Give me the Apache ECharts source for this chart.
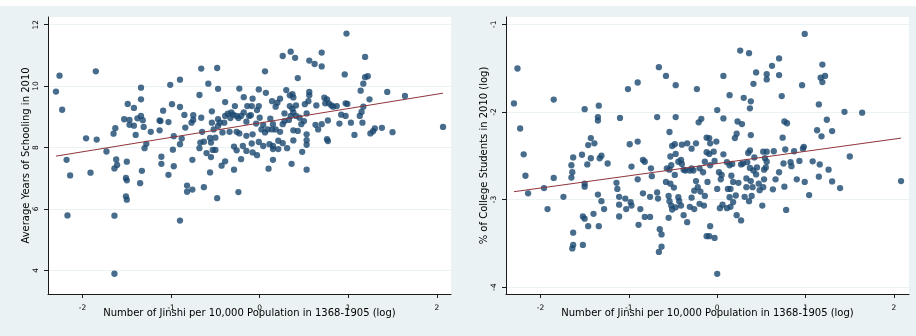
<!DOCTYPE html>
<html>
<head>
<meta charset="utf-8">
<script src="https://cdn.jsdelivr.net/npm/echarts@6/dist/echarts.min.js"></script>
<style>
html,body{margin:0;padding:0;background:#EAF2F3;}
#chart{width:916px;height:336px;}
</style>
</head>
<body>
<div id="chart"></div>
<script>
// X-axis ticks shared by both panels
var xTicks = [-2, -1, 0, 1, 2];
var schoolingTicks = [4, 6, 8, 10, 12];
var collegeTicks = [-4, -3, -2, -1];

var xTitle = 'Number of Jinshi per 10,000 Population in 1368-1905 (log)';
var schoolingTitle = 'Average Years of Schooling in 2010';
var collegeTitle = '% of College Students in 2010 (log)';

// Left panel: [log jinshi, average years of schooling]
var schoolingPoints = [
[-2.30,9.82],[-2.26,10.34],[-2.23,9.23],[-1.85,10.48],[-2.18,7.60],[-2.14,7.09],[-2.17,5.79],[-1.96,8.30],[-1.84,8.26],[-1.91,7.18],
[-1.73,7.87],[-1.64,5.78],[-1.64,3.89],[-1.63,8.63],[-1.65,8.45],[-1.62,7.61],[-1.61,7.43],[-1.64,7.32],[-1.50,7.54],[-1.51,7.01],
[-1.50,6.93],[-1.51,6.41],[-1.50,6.30],[-1.33,7.24],[-1.35,6.84],[-1.49,9.42],[-1.42,9.29],[-1.53,8.92],[-1.47,8.90],[-1.47,8.74],
[-1.42,8.71],[-1.40,8.41],[-1.38,8.95],[-1.34,9.03],[-1.32,8.89],[-1.31,8.67],[-1.34,9.57],[-1.34,9.95],[-1.28,8.12],[-1.30,7.98],
[-1.23,8.51],[-1.13,8.88],[-1.09,9.20],[-1.12,8.86],[-1.13,8.56],[-1.03,8.83],[-1.11,7.70],[-1.11,7.47],[-1.03,7.11],[-0.97,7.39],
[-0.98,7.93],[-0.99,9.41],[-1.01,10.04],[-0.90,10.21],[-0.90,9.32],[-0.85,9.06],[-0.84,8.65],[-0.97,8.37],[-0.88,8.29],[-0.90,8.11],
[-0.90,5.62],[-0.82,6.76],[-0.82,6.56],[-0.76,6.63],[-0.76,7.60],[-0.75,9.05],[-0.75,8.90],[-0.77,8.81],[-0.68,9.71],[-0.66,10.57],
[-0.66,8.97],[-0.65,8.51],[-0.58,10.08],[-0.48,10.59],[-0.47,9.91],[-0.68,7.98],[-0.67,8.16],[-0.63,8.19],[-0.60,7.82],[-0.55,7.69],
[-0.56,7.19],[-0.63,6.71],[-0.48,6.35],[-0.54,9.18],[-0.54,8.81],[-0.52,8.59],[-0.56,8.31],[-0.55,8.16],[-0.53,7.92],[-0.50,7.92],
[-0.50,8.32],[-0.47,8.70],[-0.47,8.92],[-0.45,8.81],[-0.42,8.49],[-0.40,8.81],[-0.39,9.48],[-0.39,9.03],[-0.36,9.10],[-0.34,8.51],
[-0.32,9.14],[-0.33,8.96],[-0.30,9.07],[-0.28,9.35],[-0.26,9.03],[-0.23,9.92],[-0.18,9.64],[-0.26,8.51],[-0.23,8.46],[-0.29,8.03],
[-0.19,8.05],[-0.26,7.91],[-0.21,7.62],[-0.39,7.55],[-0.43,7.41],[-0.29,7.28],[-0.24,6.55],[-0.15,7.89],[-0.24,8.96],[-0.21,9.03],
[-0.18,9.14],[-0.14,9.35],[-0.15,8.38],[-0.12,9.03],[-0.15,8.84],
[-0.08,9.59],[-0.09,9.35],[-0.03,9.22],[-0.01,9.35],[-0.10,9.05],[0.00,8.97],[-0.04,8.78],[-0.01,9.89],[0.07,9.78],[0.06,10.48],
[-0.08,8.43],[-0.09,8.13],[-0.08,7.84],[-0.03,7.75],[-0.01,8.18],[0.04,8.05],[0.02,8.59],[0.06,8.49],[0.04,8.74],[0.09,8.59],
[0.12,8.94],[0.15,8.76],[0.14,8.59],[0.11,8.11],[0.15,8.05],[0.15,7.95],[0.21,7.95],[0.15,7.60],[0.10,7.31],[0.18,8.59],
[0.23,8.51],[0.26,8.76],[0.28,8.86],[0.21,8.22],[0.26,8.14],[0.31,7.98],[0.14,9.51],[0.18,9.33],[0.20,9.46],[0.23,9.59],
[0.28,9.11],[0.30,9.87],[0.34,9.70],[0.37,9.74],[0.38,9.63],[0.34,9.35],[0.37,9.26],[0.35,9.03],[0.33,8.90],[0.38,9.14],
[0.41,9.37],[0.41,9.03],[0.45,8.97],[0.47,8.76],[0.50,8.86],[0.53,9.11],[0.51,9.41],[0.55,9.51],[0.56,9.70],[0.56,9.81],
[0.38,8.56],[0.43,8.54],[0.38,8.23],[0.48,7.86],[0.36,7.47],[0.53,7.28],[0.53,8.43],[0.53,8.24],[0.53,8.09],[0.43,10.26],
[0.56,10.83],[0.62,10.72],[0.70,10.64],[0.70,11.09],[0.35,11.12],[0.26,10.98],[0.40,10.92],[0.63,8.74],[0.66,8.59],[0.70,8.76],
[0.64,9.37],[0.73,9.62],[0.76,9.57],[0.74,9.44],[0.78,9.44],[0.81,9.37],[0.83,9.33],[0.87,9.35],[0.77,8.88],[0.76,8.27],
[0.77,8.21],[0.90,8.78],[0.92,9.07],[0.97,9.03],[0.97,9.44],[0.99,9.42],[0.96,10.38],[0.98,11.71],[1.03,8.81],[1.07,8.41],
[1.16,8.81],[1.13,9.03],[1.15,9.16],[1.17,9.33],[1.14,9.85],[1.17,10.08],[1.19,10.29],[1.22,10.32],[1.19,10.95],[1.24,9.57],
[1.25,8.46],[1.28,8.53],[1.30,8.62],[1.38,8.64],[1.50,8.50],[1.44,9.81],[1.64,9.68],[2.07,8.67]
];

// Right panel: [log jinshi, log % college students]
var collegePoints = [
[-2.30,-1.904],[-2.26,-1.505],[-2.23,-2.19],[-2.19,-2.485],[-2.17,-2.73],[-2.14,-2.93],[-1.96,-2.87],[-1.92,-3.11],[-1.85,-2.755],[-1.85,-1.86],
[-1.74,-2.97],[-1.65,-2.75],[-1.64,-2.69],[-1.65,-2.61],[-1.63,-2.52],[-1.63,-3.38],[-1.63,-3.52],[-1.64,-3.56],[-1.52,-3.52],[-1.53,-2.49],
[-1.47,-2.60],[-1.50,-2.82],[-1.50,-2.855],[-1.52,-3.195],[-1.50,-3.22],[-1.46,-3.305],[-1.40,-3.165],[-1.34,-3.305],[-1.35,-2.945],[-1.31,-3.02],
[-1.28,-3.11],[-1.50,-1.97],[-1.34,-1.93],[-1.35,-2.06],[-1.35,-2.10],[-1.46,-2.38],[-1.43,-2.30],[-1.39,-2.36],[-1.43,-2.53],[-1.33,-2.53],
[-1.31,-2.50],[-1.24,-2.59],[-1.10,-2.07],[-1.14,-2.81],[-1.13,-2.88],[-1.11,-2.97],[-1.11,-3.06],[-1.11,-3.195],[-1.04,-2.99],[-1.03,-3.11],
[-0.98,-3.03],[-0.97,-3.07],[-1.01,-1.74],[-0.90,-1.665],[-0.99,-2.37],[-0.90,-2.34],[-0.97,-2.625],[-0.90,-2.77],[-0.87,-3.11],[-0.89,-3.29],
[-0.84,-2.93],[-0.84,-2.55],[-0.82,-2.57],[-0.82,-3.20],[-0.76,-2.97],[-0.76,-3.20],[-0.75,-2.645],[-0.74,-2.735],[-0.68,-2.06],[-0.66,-1.49],
[-0.58,-1.59],[-0.47,-1.695],[-0.47,-2.06],[-0.68,-2.92],[-0.67,-2.99],[-0.65,-3.34],[-0.63,-3.40],[-0.63,-3.54],[-0.66,-3.60],[-0.54,-2.23],
[-0.51,-2.39],[-0.48,-2.37],[-0.47,-2.48],[-0.53,-2.51],[-0.52,-2.61],[-0.57,-2.645],[-0.54,-2.66],[-0.48,-2.72],[-0.58,-2.80],[-0.53,-2.82],
[-0.49,-2.865],[-0.55,-2.96],[-0.54,-3.02],[-0.52,-3.07],[-0.51,-3.115],[-0.55,-3.21],[-0.47,-3.09],[-0.44,-2.975],[-0.43,-3.02],[-0.41,-3.07],
[-0.38,-3.18],[-0.34,-3.26],[-0.44,-2.57],[-0.41,-2.55],[-0.40,-2.595],[-0.38,-2.66],[-0.40,-2.375],[-0.34,-2.36],[-0.29,-2.42],[-0.24,-2.36],
[-0.36,-2.67],[-0.31,-2.67],[-0.27,-2.67],[-0.20,-2.645],[-0.16,-2.69],[-0.14,-2.57],[-0.12,-2.46],[-0.24,-2.79],[-0.26,-2.90],[-0.22,-2.86],
[-0.19,-2.91],[-0.29,-2.98],[-0.31,-3.085],[-0.26,-3.11],[-0.20,-3.05],[-0.15,-3.07],[-0.14,-2.96],[-0.23,-1.74],[-0.21,-2.12],[-0.18,-2.08],
[-0.12,-2.295],[-0.12,-3.42],[-0.29,-2.645],
[-0.09,-2.30],[-0.08,-2.36],[-0.01,-2.34],[-0.04,-2.455],[-0.09,-2.48],[-0.03,-2.56],[-0.08,-2.61],[-0.11,-2.80],[0.00,-2.88],[0.02,-2.69],
[0.05,-2.72],[0.04,-2.77],[0.07,-2.485],[0.07,-2.075],[0.07,-1.59],[0.00,-1.98],[0.14,-1.81],[0.26,-1.30],[0.36,-1.33],[0.41,-1.68],
[0.30,-1.84],[0.38,-1.88],[0.37,-1.96],[0.44,-1.55],[0.56,-1.57],[0.56,-1.63],[0.62,-1.475],[0.70,-1.39],[0.70,-1.58],[0.73,-1.82],
[0.23,-2.11],[0.28,-2.14],[0.22,-2.25],[0.20,-2.30],[0.38,-2.265],[0.11,-2.575],[0.14,-2.61],[0.17,-2.595],[0.16,-2.73],[0.12,-2.88],
[0.15,-2.88],[0.14,-2.975],[0.18,-2.80],[0.24,-2.81],[0.21,-2.955],[0.18,-3.03],[0.15,-3.085],[0.11,-3.10],[0.06,-3.06],[0.03,-3.10],
[0.22,-3.18],[0.27,-3.24],[-0.08,-3.305],[-0.09,-3.42],[-0.03,-3.44],[0.00,-3.85],[0.27,-2.60],[0.29,-2.59],[0.34,-2.575],[0.35,-2.47],
[0.37,-2.44],[0.37,-2.64],[0.41,-2.67],[0.42,-2.52],[0.45,-2.635],[0.44,-2.715],[0.33,-2.76],[0.38,-2.79],[0.33,-2.86],[0.40,-2.86],
[0.31,-2.97],[0.36,-3.02],[0.39,-2.96],[0.47,-2.82],[0.48,-2.895],[0.52,-2.86],[0.53,-2.77],[0.51,-3.07],[0.52,-2.455],[0.56,-2.455],
[0.54,-2.53],[0.56,-2.57],[0.55,-2.635],[0.53,-2.66],[0.64,-2.45],[0.66,-2.77],[0.63,-2.885],[0.70,-2.69],[0.75,-2.59],[0.76,-2.855],
[0.77,-2.43],[0.74,-2.295],[0.76,-2.11],[0.79,-2.13],[0.78,-3.12],[0.83,-2.575],[0.84,-2.62],[0.87,-2.45],[0.93,-2.56],[0.97,-2.42],
[0.98,-2.40],[0.96,-1.695],[0.99,-1.11],[0.90,-2.77],[0.99,-2.80],[1.04,-2.95],[1.08,-2.565],[1.16,-2.60],[1.15,-2.74],[1.26,-2.66],
[1.30,-2.795],[1.39,-2.87],[1.50,-2.51],[1.13,-2.21],[1.18,-2.28],[1.30,-2.22],[1.24,-2.09],[1.15,-1.915],[1.19,-1.66],[1.17,-1.61],
[1.22,-1.59],[1.19,-1.46],[1.44,-2.00],[1.64,-2.01],[2.08,-2.79]
];

// Fitted regression lines (end points)
var schoolingFit = [[-2.30, 7.72], [2.07, 9.77]];
var collegeFit = [[-2.30, -2.912], [2.08, -2.30]];

var FONT = 'DejaVu Sans';
var AXIS_COLOR = '#1b1b1b';
var GRID_COLOR = '#EAF2F3';
var DOT_COLOR = '#1a476f';
var LINE_COLOR = '#90353b';

function makeX(gridIndex, min, max) {
  return {
    type: 'value', gridIndex: gridIndex, min: min, max: max,
    name: xTitle, nameLocation: 'middle', nameGap: 14, nameMoveOverlap: false,
    nameTextStyle: {fontFamily: FONT, fontSize: 10, color: '#000'},
    axisLine: {show: true, onZero: false, lineStyle: {color: AXIS_COLOR, width: 1}},
    axisTick: {show: true, length: 4, customValues: xTicks, lineStyle: {color: AXIS_COLOR}},
    axisLabel: {customValues: xTicks, margin: 10, fontFamily: FONT, fontSize: 7.5, color: '#000', showMinLabel: true, showMaxLabel: true},
    splitLine: {show: false}
  };
}
function makeY(gridIndex, min, max, ticks, title) {
  return {
    type: 'value', gridIndex: gridIndex, min: min, max: max,
    name: title, nameLocation: 'middle', nameGap: 17, nameRotate: 90, nameMoveOverlap: false,
    nameTextStyle: {fontFamily: FONT, fontSize: 10, color: '#000'},
    axisLine: {show: true, onZero: false, lineStyle: {color: AXIS_COLOR, width: 1}},
    axisTick: {show: true, length: 4, customValues: ticks, lineStyle: {color: AXIS_COLOR}},
    axisLabel: {customValues: ticks, rotate: 90, margin: 8, fontFamily: FONT, fontSize: 7.5, color: '#000'},
    splitLine: {show: true, lineStyle: {color: GRID_COLOR, width: 1}}
  };
}

var chart = echarts.init(document.getElementById('chart'), null, {renderer: 'canvas'});
chart.setOption({
  backgroundColor: '#EAF2F3',
  animation: false,
  graphic: [{type: 'rect', shape: {x: 0, y: 0, width: 916, height: 6}, style: {fill: '#ffffff'}, silent: true}],
  grid: [
    {left: 48, top: 17, width: 403, height: 277, show: true, backgroundColor: '#ffffff', borderWidth: 0},
    {left: 506, top: 17, width: 403, height: 277, show: true, backgroundColor: '#ffffff', borderWidth: 0}
  ],
  xAxis: [makeX(0, -2.39, 2.16), makeX(1, -2.39, 2.17)],
  yAxis: [makeY(0, 3.23, 12.25, schoolingTicks, schoolingTitle), makeY(1, -4.08, -0.917, collegeTicks, collegeTitle)],
  series: [
    {type: 'scatter', xAxisIndex: 0, yAxisIndex: 0, data: schoolingPoints, symbol: 'circle', symbolSize: 6.3,
     itemStyle: {color: DOT_COLOR}, z: 2},
    {type: 'line', xAxisIndex: 0, yAxisIndex: 0, data: schoolingFit, symbol: 'none',
     lineStyle: {color: LINE_COLOR, width: 1}, z: 3},
    {type: 'scatter', xAxisIndex: 1, yAxisIndex: 1, data: collegePoints, symbol: 'circle', symbolSize: 6.3,
     itemStyle: {color: DOT_COLOR}, z: 2},
    {type: 'line', xAxisIndex: 1, yAxisIndex: 1, data: collegeFit, symbol: 'none',
     lineStyle: {color: LINE_COLOR, width: 1}, z: 3}
  ]
});
</script>
</body>
</html>
